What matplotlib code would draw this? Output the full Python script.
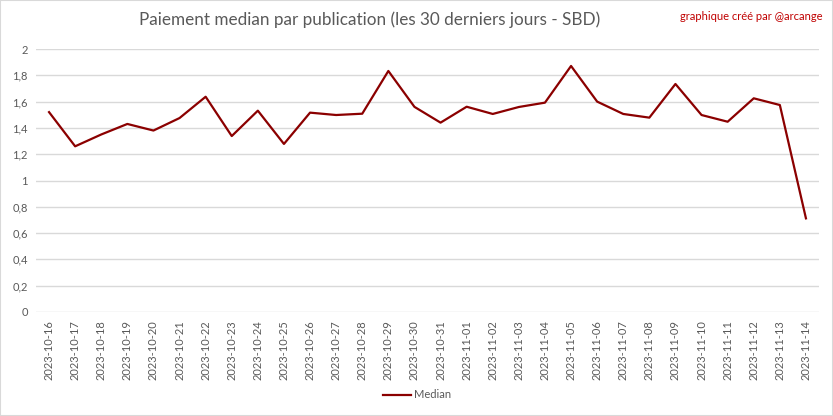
import numpy as np
import matplotlib.pyplot as plt
from matplotlib.patches import Rectangle

dates = ['2023-10-16', '2023-10-17', '2023-10-18', '2023-10-19', '2023-10-20',
         '2023-10-21', '2023-10-22', '2023-10-23', '2023-10-24', '2023-10-25',
         '2023-10-26', '2023-10-27', '2023-10-28', '2023-10-29', '2023-10-30',
         '2023-10-31', '2023-11-01', '2023-11-02', '2023-11-03', '2023-11-04',
         '2023-11-05', '2023-11-06', '2023-11-07', '2023-11-08', '2023-11-09',
         '2023-11-10', '2023-11-11', '2023-11-12', '2023-11-13', '2023-11-14']
median = [1.52, 1.26, 1.35, 1.43, 1.38, 1.475, 1.637, 1.338, 1.531, 1.278,
          1.516, 1.498, 1.508, 1.833, 1.56, 1.44, 1.561, 1.506, 1.559, 1.592,
          1.871, 1.60, 1.506, 1.478, 1.734, 1.498, 1.447, 1.625, 1.574, 0.712]
yticks = [0, 0.2, 0.4, 0.6, 0.8, 1, 1.2, 1.4, 1.6, 1.8, 2]
ylabels = ['0', '0,2', '0,4', '0,6', '0,8', '1', '1,2', '1,4', '1,6', '1,8', '2']

plt.rcParams['font.family'] = ['Lato', 'DejaVu Sans']
grey = '#595959'
red = '#8b0000'

fig = plt.figure(figsize=(8.33, 4.16), dpi=100)
ax = fig.add_axes([36 / 833, 1 - 312 / 416, (819 - 36) / 833, (312 - 49) / 416])

x = np.arange(len(dates))
ax.plot(x, median, color=red, linewidth=1.6, label='Median')

ax.set_xlim(-0.5, len(dates) - 0.5)
ax.set_ylim(0, 2)
ax.set_yticks(yticks)
ax.set_yticklabels(ylabels)
ax.set_xticks(x)
ax.set_xticklabels(dates, rotation=90)
ax.tick_params(length=0, labelsize=8, colors=grey, pad=6)
ax.grid(axis='y', color='#d9d9d9', linewidth=1)
ax.set_axisbelow(True)
for s in ax.spines.values():
    s.set_visible(False)

fig.text(370 / 833, 1 - 20 / 416, 'Paiement median par publication (les 30 derniers jours - SBD)',
         ha='center', va='center', fontsize=12.3, color=grey)
fig.text(823 / 833, 1 - 16 / 416, 'graphique créé par @arcange',
         ha='right', va='center', fontsize=8, color='#c00000')

fig.legend(loc='center', bbox_to_anchor=(417 / 833, 1 - 395 / 416), frameon=False,
           fontsize=8, labelcolor=grey, handlelength=2.5, handletextpad=0.3)

fig.patches.append(Rectangle((0, 0), 1, 1, transform=fig.transFigure, fill=False,
                             edgecolor='#d9d9d9', linewidth=1.5))

fig.savefig('out.png', dpi=100)
